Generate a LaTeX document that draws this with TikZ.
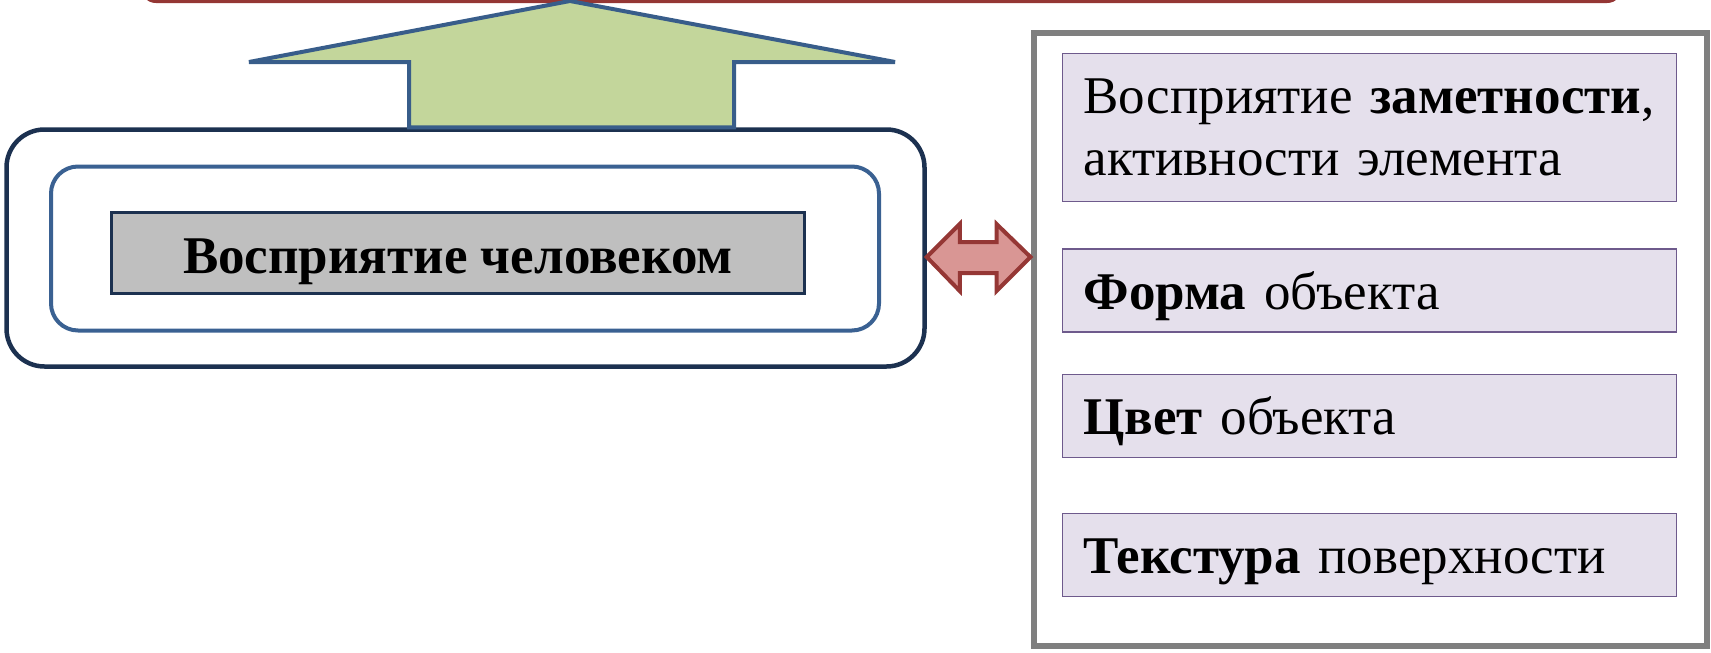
\documentclass[tikz,border=0pt]{standalone}
\usepackage{fontspec}
\setmainfont{Liberation Serif}
\usetikzlibrary{calc}
\definecolor{framered}{HTML}{943634}
\definecolor{arrowgreen}{HTML}{C3D69B}
\definecolor{arrowblue}{HTML}{385D8A}
\definecolor{navy}{HTML}{1C3150}
\definecolor{midblue}{HTML}{3A6192}
\definecolor{boxgray}{HTML}{BFBFBF}
\definecolor{pinkfill}{HTML}{D99694}
\definecolor{pinkline}{HTML}{953735}
\definecolor{framegray}{HTML}{7F7F7F}
\definecolor{lilac}{HTML}{E5E0EC}
\definecolor{lilacline}{HTML}{6E5A8C}
\tikzset{
  outerframe/.style={draw=navy, line width=4.5pt, rounded corners=38pt, minimum width=918pt, minimum height=237pt},
  innerframe/.style={draw=midblue, line width=4pt, rounded corners=27pt, minimum width=828pt, minimum height=164pt},
  titlebox/.style={draw=navy, line width=3pt, fill=boxgray, minimum width=693pt, minimum height=81pt,
    text height=53pt, text depth=13pt, font=\fontsize{53}{63}\selectfont\bfseries},
  listframe/.style={draw=framegray, line width=6pt, minimum width=673pt, minimum height=613pt},
  itembox/.style={draw=lilacline, line width=1.6pt, fill=lilac, minimum width=614pt, minimum height=83pt,
    text width=572pt, inner xsep=21pt, align=left, font=\fontsize{53}{62}\selectfont},
  itemline/.style={itembox, text height=50pt, text depth=13pt},
  blockarrow/.style={line width=4pt, line join=miter},
}
\begin{document}
\begin{tikzpicture}[x=1pt,y=-1pt]
\useasboundingbox (0,0) rectangle (1711,653);

% goal frame along the top edge
\draw[framered, line width=4pt, rounded corners=14pt] (142,-80) rectangle (1621,1);

% left block: perception by a person
\node[outerframe] (outer) at (465.5,248) {};
\node[innerframe] (inner) at (465,248.5) {};
\node[titlebox] (title) at (458,253) {Восприятие человеком};

% upward block arrow from the left block to the goal frame
\coordinate (tip) at (570,1);
\draw[blockarrow, draw=arrowblue, fill=arrowgreen]
  (outer.north -| 409,0) -- (409,62) -- (249,62) -- (tip) -- (895,62) -- (734,62) -- (outer.north -| 734,0) -- cycle;

% right block: list of features
\node[listframe] (list) at (1370,339) {};
\node[itembox, minimum height=148pt] (b1) at (1369.5,127.5) {Восприятие \textbf{заметности},\\активности элемента};
\node[itemline] (b2) at (1369.5,290.5) {\textbf{Форма} объекта};
\node[itemline] (b3) at (1369.5,416) {\textbf{Цвет} объекта};
\node[itemline] (b4) at (1369.5,555) {\textbf{Текстура} поверхности};

% two-way block arrow between the blocks
\coordinate (L) at (outer.east |- 0,257);
\coordinate (R) at (list.west |- 0,257);
\draw[blockarrow, draw=pinkline, fill=pinkfill]
  (L) -- ($(L)+(33,-33)$) -- ($(L)+(33,-15)$) -- ($(R)+(-34,-15)$) -- ($(R)+(-34,-33)$) -- (R)
  -- ($(R)+(-34,34)$) -- ($(R)+(-34,16)$) -- ($(L)+(33,16)$) -- ($(L)+(33,34)$) -- cycle;
\end{tikzpicture}
\end{document}
